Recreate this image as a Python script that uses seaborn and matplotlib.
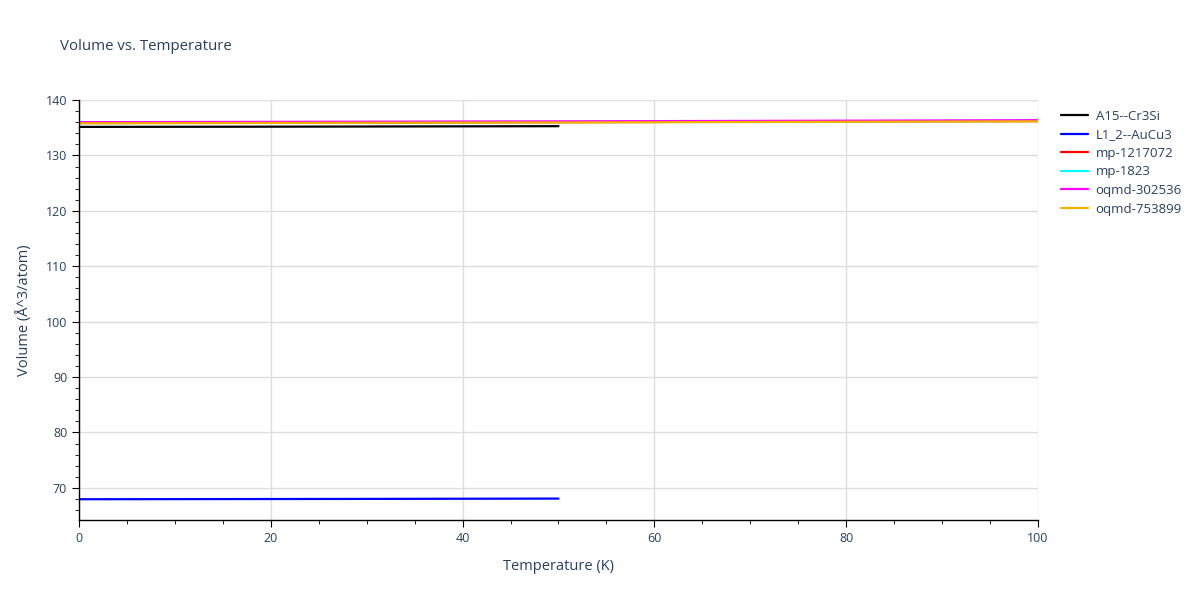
import numpy as np
import pandas as pd
import matplotlib.pyplot as plt
import seaborn as sns
from matplotlib.ticker import MultipleLocator

sns.set_style("white")
plt.rcParams['font.family'] = ['Open Sans', 'DejaVu Sans']

# temperatures (K)
temp_50 = [0, 10, 20, 30, 40, 50]
temp_100 = [0, 10, 20, 30, 40, 50, 60, 70, 80, 90, 100]

# volumes (A^3/atom)
vol_a15 = [135.15, 135.17, 135.19, 135.22, 135.25, 135.28]
vol_l12 = [67.95, 67.97, 67.99, 68.01, 68.04, 68.07]
vol_mp1217072 = [135.85, 135.88, 135.91, 135.94, 135.97, 136.0, 136.04, 136.08, 136.12, 136.16, 136.2]
vol_mp1823 = [135.9, 135.93, 135.96, 135.99, 136.02, 136.05, 136.09, 136.13, 136.17, 136.21, 136.25]
vol_oqmd302536 = [136.0, 136.03, 136.06, 136.09, 136.12, 136.15, 136.19, 136.23, 136.27, 136.31, 136.36]
vol_oqmd753899 = [135.8, 135.83, 135.86, 135.89, 135.92, 135.95, 135.99, 136.03, 136.07, 136.11, 136.15]

names = ["A15--Cr3Si", "L1_2--AuCu3", "mp-1217072", "mp-1823", "oqmd-302536", "oqmd-753899"]
colors = ["black", "blue", "red", "cyan", "magenta", "#f0b400"]
series = [(temp_50, vol_a15), (temp_50, vol_l12), (temp_100, vol_mp1217072),
          (temp_100, vol_mp1823), (temp_100, vol_oqmd302536), (temp_100, vol_oqmd753899)]

frames = []
for n, (t, v) in zip(names, series):
    frames.append(pd.DataFrame({"Temperature": t, "Volume": v, "name": n}))
df = pd.concat(frames, ignore_index=True)

fig = plt.figure(figsize=(12, 6), dpi=100)
ax = fig.add_axes([0.0658, 0.1333, 0.7992, 0.7])

sns.lineplot(data=df, x="Temperature", y="Volume", hue="name",
             palette=dict(zip(names, colors)), linewidth=1.6, ax=ax, legend=True)

txt = "#2a3f5f"
ax.set_xlim(0, 100)
ax.set_ylim(64.2, 140)
ax.xaxis.set_major_locator(MultipleLocator(20))
ax.xaxis.set_minor_locator(MultipleLocator(5))
ax.yaxis.set_major_locator(MultipleLocator(10))
ax.yaxis.set_minor_locator(MultipleLocator(2))
ax.grid(True, which="major", color="#dddddd", linewidth=1)
ax.set_axisbelow(True)
for s in ["top", "right"]:
    ax.spines[s].set_visible(False)
for s in ["left", "bottom"]:
    ax.spines[s].set_color("black")
    ax.spines[s].set_linewidth(1)
ax.tick_params(which="major", direction="out", length=5, color="black",
               labelsize=9, labelcolor=txt, left=True, bottom=True)
ax.tick_params(which="minor", direction="out", length=3, color="black",
               left=True, bottom=True)
ax.set_xlabel("Temperature (K)", fontsize=10.5, color=txt, labelpad=10)
ax.set_ylabel("Volume (Å^3/atom)", fontsize=10.5, color=txt, labelpad=10)
fig.text(0.05, 0.917, "Volume vs. Temperature", fontsize=10.8, color=txt)

leg = ax.legend(loc="upper left", bbox_to_anchor=(1.012, 1.005), frameon=False,
                fontsize=9.5, handlelength=2.0, handletextpad=0.6,
                labelspacing=0.42)
for t in leg.get_texts():
    t.set_color(txt)

fig.savefig("out.png", dpi=100)
